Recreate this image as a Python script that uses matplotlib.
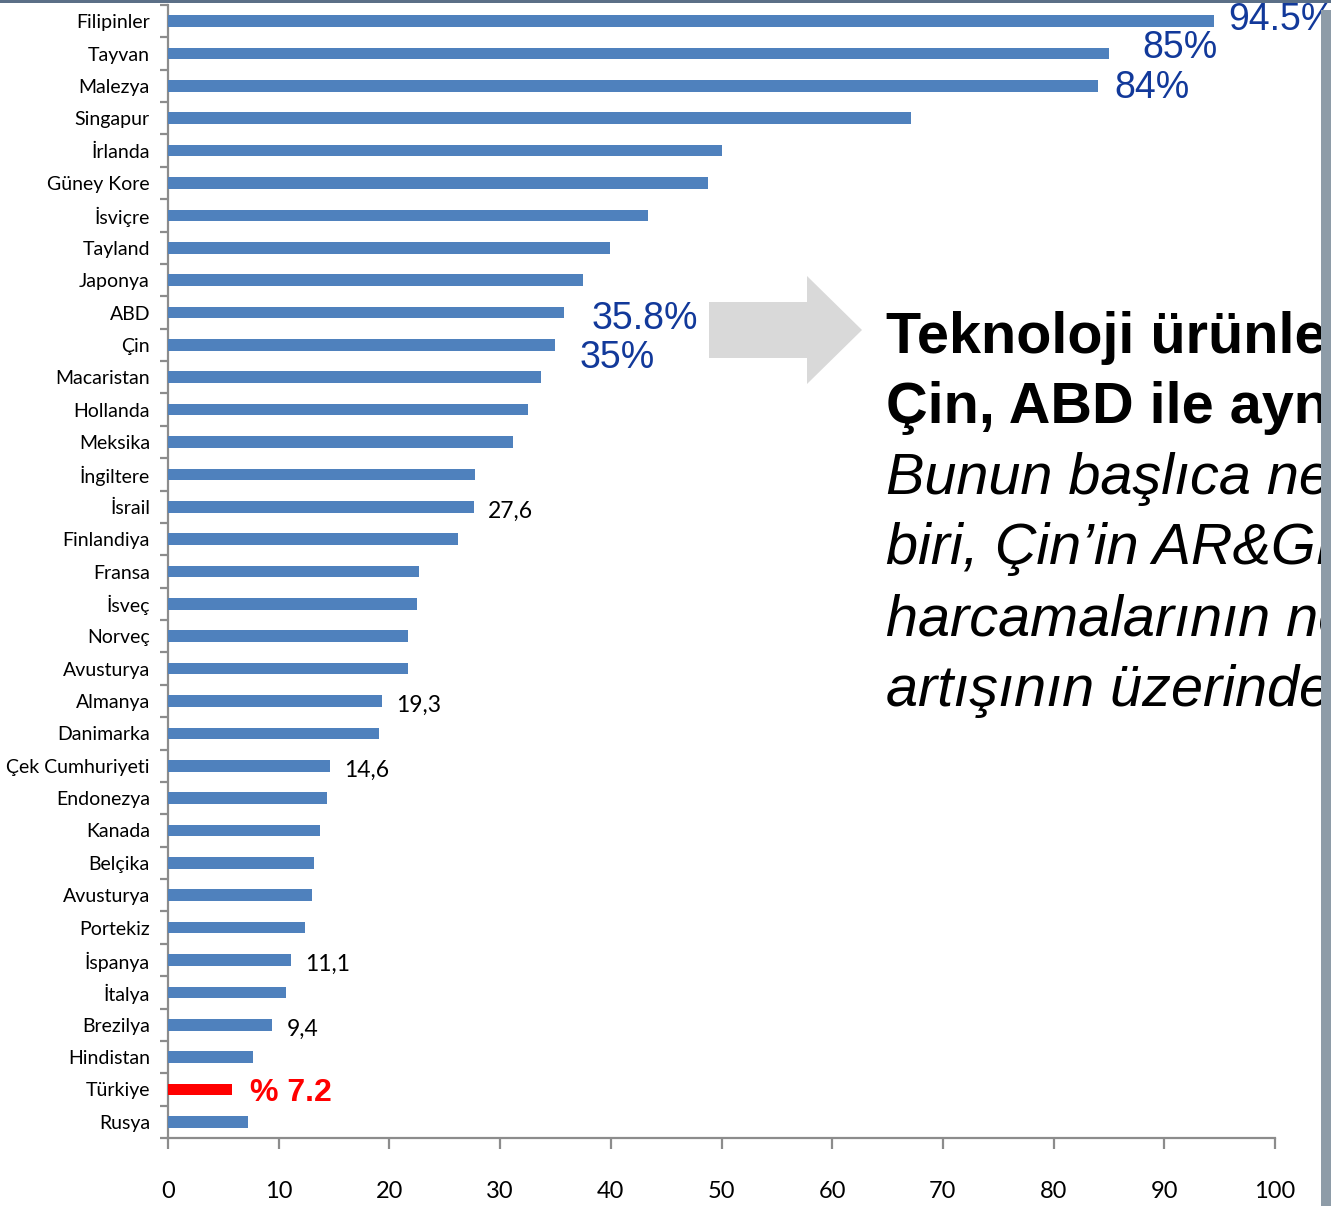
import matplotlib
matplotlib.use("Agg")
import matplotlib.pyplot as plt
from matplotlib.patches import Polygon, Rectangle
from matplotlib.ticker import MultipleLocator
import numpy as np

# Data: technology product share in exports (%)
countries = ["Filipinler", "Tayvan", "Malezya", "Singapur", "İrlanda", "Güney Kore",
             "İsviçre", "Tayland", "Japonya", "ABD", "Çin", "Macaristan", "Hollanda",
             "Meksika", "İngiltere", "İsrail", "Finlandiya", "Fransa", "İsveç", "Norveç",
             "Avusturya", "Almanya", "Danimarka", "Çek Cumhuriyeti", "Endonezya", "Kanada",
             "Belçika", "Avusturya", "Portekiz", "İspanya", "İtalya", "Brezilya",
             "Hindistan", "Türkiye", "Rusya"]
values = [94.5, 85.0, 84.0, 67.1, 50.0, 48.8, 43.4, 39.9, 37.5, 35.8, 35.0, 33.7, 32.5,
          31.2, 27.7, 27.6, 26.2, 22.7, 22.5, 21.7, 21.7, 19.3, 19.1, 14.6, 14.4, 13.7,
          13.2, 13.0, 12.4, 11.1, 10.7, 9.4, 7.7, 5.8, 7.2]
highlight = "Türkiye"

# big blue callouts: (category, text)
pct_labels = [("Filipinler", "94.5%"), ("Tayvan", "85%"), ("Malezya", "84%"),
              ("ABD", "35.8%"), ("Çin", "35%")]
# small data labels (comma decimal)
num_labels = [("İsrail", "27,6"), ("Almanya", "19,3"), ("Çek Cumhuriyeti", "14,6"),
              ("İspanya", "11,1"), ("Brezilya", "9,4")]
turkiye_label = "% 7.2"

text_lines_bold = ["Teknoloji ürünlerinde", "Çin, ABD ile aynı"]
text_lines_italic = ["Bunun başlıca nedenlerinden", "biri, Çin’in AR&GE",
                     "harcamalarının nominal", "artışının üzerinde"]

W, H = 1331, 1206
fig = plt.figure(figsize=(W / 100, H / 100), dpi=100)
ax = fig.add_axes([168 / W, 68 / H, (1275 - 168) / W, (1138 - 5) / H])

calibri = ["Lato", "DejaVu Sans"]
arial = ["Liberation Sans", "DejaVu Sans"]
blue = "#4F81BD"
dark_blue = "#12399A"
axis_gray = "#8C8C8C"

y = np.arange(len(countries))
colors = ["#FF0000" if c == highlight else blue for c in countries]
ax.barh(y, values, height=0.36, color=colors, edgecolor="none", zorder=3)

ax.set_xlim(0, 100)
ax.set_ylim(len(countries) - 0.5, -0.5)
ax.xaxis.set_major_locator(MultipleLocator(10))
ax.set_yticks(y)
ax.set_yticklabels(countries, family=calibri, fontsize=14)
ax.set_yticks(np.arange(len(countries) + 1) - 0.5, minor=True)
ax.tick_params(axis="y", which="major", length=0, pad=13)
ax.tick_params(axis="y", which="minor", length=6, width=1.6, color=axis_gray, direction="out")
ax.tick_params(axis="x", length=8, width=1.6, color=axis_gray, pad=23, labelsize=17)
for lbl in ax.get_xticklabels():
    lbl.set_family(calibri)
for s in ["top", "right"]:
    ax.spines[s].set_visible(False)
for s in ["left", "bottom"]:
    ax.spines[s].set_color(axis_gray)
    ax.spines[s].set_linewidth(1.6)

idx = {c: i for i, c in enumerate(countries)}
val = dict(zip(countries, values))

# blue callouts
offsets = {"94.5%": (1.3, -0.05), "85%": (3.0, -0.16), "84%": (1.5, 0.05),
           "35.8%": (2.5, 0.2), "35%": (2.2, 0.4)}
for c, t in pct_labels:
    dx, dy = offsets[t]
    ax.text(val[c] + dx, idx[c] + dy, t, family=arial, fontsize=27, color=dark_blue,
            va="center", ha="left", clip_on=False, zorder=5)

for c, t in num_labels:
    ax.text(val[c] + 1.3, idx[c] + 0.15, t, family=calibri, fontsize=16.5, color="black",
            va="center", ha="left")

ax.text(7.4, idx[highlight] + 0.1, turkiye_label, family=arial, fontsize=23,
        fontweight="bold", color="#FF0000", va="center", ha="left")


def px(x, yy):
    return (x / W, 1 - yy / H)


# grey block arrow
arrow_pts = [px(709, 302), px(807, 302), px(807, 276), px(862, 330),
             px(807, 384), px(807, 358), px(709, 358)]
fig.patches.append(Polygon(arrow_pts, closed=True, transform=fig.transFigure,
                           facecolor="#D9D9D9", edgecolor="none", zorder=1))

# right-hand text block (runs off the slide edge like the original)
ty = 338
for line in text_lines_bold:
    fig.text(886 / W, 1 - ty / H, line, family=arial, fontsize=41.5, fontweight="bold",
             va="center", ha="left")
    ty += 70
ty = 479
for line in text_lines_italic:
    fig.text(886 / W, 1 - ty / H, line, family=arial, fontsize=41.5, style="italic",
             va="center", ha="left")
    ty += 70.5

# slide frame remnants: top bar and right bar
fig.patches.append(Rectangle((0, 1 - 3 / H), 1, 3 / H, transform=fig.transFigure,
                             facecolor="#5B6F87", edgecolor="none", zorder=10))
fig.patches.append(Rectangle((1321 / W, 0), 10 / W, 1 - 10 / H, transform=fig.transFigure,
                             facecolor="#8E9CA8", edgecolor="none", zorder=10))

fig.savefig("out.png", dpi=100)
